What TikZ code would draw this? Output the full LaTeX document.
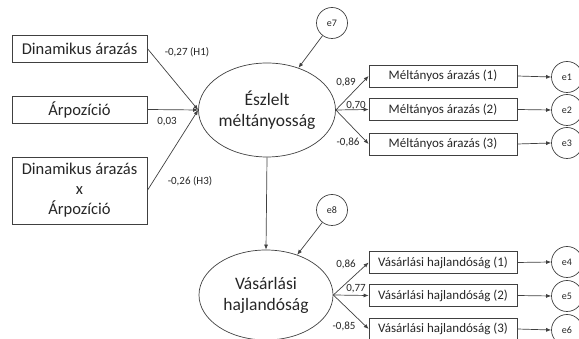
\documentclass[tikz,border=0pt]{standalone}
\usepackage{fontspec}
\setmainfont{Carlito}
\usetikzlibrary{arrows.meta,shapes.geometric}
\begin{document}
\begin{tikzpicture}[x=1pt,y=1pt,
  every node/.style={text=black!85},
  lat/.style={draw=black!75,line width=0.7pt,ellipse,minimum width=136pt,minimum height=94pt,font=\fontsize{17.5}{21}\selectfont,align=center,inner sep=0pt},
  obsbox/.style={draw=black!75,line width=0.7pt,minimum width=135pt,inner sep=0pt,font=\fontsize{16.5}{20}\selectfont,align=center},
  indbox/.style={draw=black!75,line width=0.7pt,minimum width=148pt,minimum height=22pt,inner sep=0pt,font=\fontsize{13}{15}\selectfont},
  errc/.style={draw=black!75,line width=0.7pt,circle,minimum size=31pt,inner sep=0pt,font=\fontsize{10}{12}\selectfont},
  lbl/.style={font=\fontsize{11}{13}\selectfont,inner sep=0pt},
  arr/.style={draw=black!75,line width=0.7pt,-{Latex[length=5pt,width=4pt]}}]
\useasboundingbox (0,0) rectangle (579,339);
\clip (0,0) rectangle (579,339);
% left observed
\node[obsbox,minimum height=27pt] (d) at (79.5,290.5) {Dinamikus árazás};
\node[obsbox,minimum height=27pt] (a) at (79.5,229.5) {Árpozíció};
\node[obsbox,minimum height=67pt] (x) at (79.5,148.5) {Dinamikus árazás\\x\\Árpozíció};
% latent
\node[lat] (E1) at (267,229) {Észlelt\\méltányosság};
\node[lat,minimum width=134pt,minimum height=90pt] (E2) at (266,44) {Vásárlási\\hajlandóság};
% error latent
\node[errc] (e7) at (332,316) {e7};
\node[errc] (e8) at (332,129) {e8};
% indicators
\node[indbox] (m1) at (443,263) {Méltányos árazás (1)};
\node[indbox] (m2) at (443,229.5) {Méltányos árazás (2)};
\node[indbox] (m3) at (443,195) {Méltányos árazás (3)};
\node[indbox] (v1) at (443,76.5) {Vásárlási hajlandóság (1)};
\node[indbox] (v2) at (443,43.5) {Vásárlási hajlandóság (2)};
\node[indbox] (v3) at (443,10) {Vásárlási hajlandóság (3)};
\node[errc] (e1) at (567,262) {e1};
\node[errc] (e2) at (567,229) {e2};
\node[errc] (e3) at (567,196) {e3};
\node[errc] (e4) at (567,77) {e4};
\node[errc] (e5) at (567,43) {e5};
\node[errc] (e6) at (567,9) {e6};
% connectors
\draw[arr] (d.east) -- (E1.west);
\draw[arr] (a.east) -- (E1.west);
\draw[arr] (x.east) -- (E1.west);
\draw[arr] (e7) -- (E1);
\draw[arr] (e8) -- (E2);
\draw[arr] (E1.south) -- (E2.north);
\draw[arr] (E1.east) -- (m1.west);
\draw[arr] (E1.east) -- (m2.west);
\draw[arr] (E1.east) -- (m3.west);
\draw[arr] (E2.east) -- (v1.west);
\draw[arr] (E2.east) -- (v2.west);
\draw[arr] (E2.east) -- (v3.west);
\draw[arr] (m1.east) -- (e1.west);
\draw[arr] (m2.east) -- (e2.west);
\draw[arr] (m3.east) -- (e3.west);
\draw[arr] (v1.east) -- (e4.west);
\draw[arr] (v2.east) -- (e5.west);
\draw[arr] (v3.east) -- (e6.west);
% labels
\node[lbl] (l1) at (187,287) {-0,27 (H1)};
\node[lbl] (l2) at (167,217) {0,03};
\node[lbl] (l3) at (190,158) {-0,26 (H3)};
\node[lbl] (l4) at (346,257) {0,89};
\node[lbl] (l5) at (356,233) {0,70};
\node[lbl] (l6) at (348,197) {-0,86};
\node[lbl] (l7) at (346,75) {0,86};
\node[lbl] (l8) at (356,50) {0,77};
\node[lbl] (l9) at (344,13) {-0,85};
\end{tikzpicture}
\end{document}
